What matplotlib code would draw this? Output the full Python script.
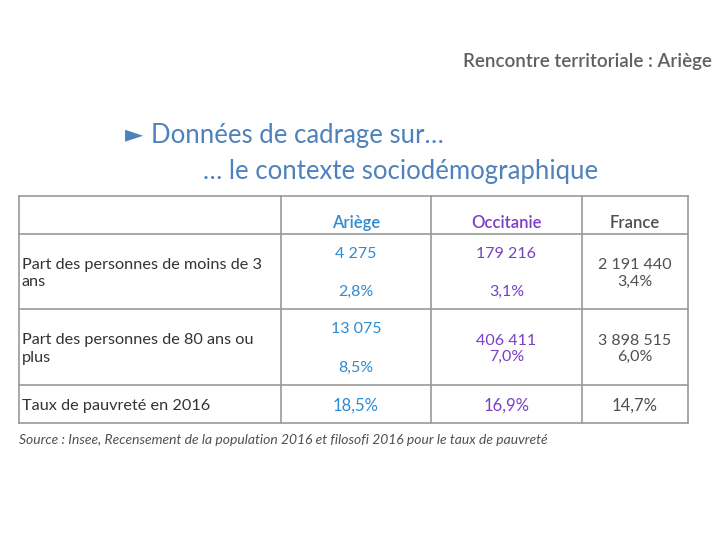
import matplotlib.pyplot as plt

# données du tableau
colonnes = ["Ariège", "Occitanie", "France"]
lignes = ["Part des personnes de moins de 3\nans",
          "Part des personnes de 80 ans ou\nplus",
          "Taux de pauvreté en 2016"]
effectifs = [["4 275", "179 216", "2 191 440"],
             ["13 075", "406 411", "3 898 515"],
             ["", "", ""]]
parts = [["2,8%", "3,1%", "3,4%"],
         ["8,5%", "7,0%", "6,0%"],
         ["18,5%", "16,9%", "14,7%"]]

couleurs = ["#2E8BD0", "#7A3FC4", "#505050"]

plt.rcParams['font.family'] = ['Lato', 'DejaVu Sans']

fig = plt.figure(figsize=(7.2, 5.4), dpi=100)
ax = fig.add_axes([0, 0, 1, 1])
ax.set_xlim(0, 720)
ax.set_ylim(540, 0)
ax.axis('off')

# en-tête
ax.text(712, 62, "Rencontre territoriale : Ariège", ha='right', va='center',
        fontsize=13.5, color='#606060', fontweight='semibold')
ax.text(125, 135, "►", ha='left', va='center',
        fontsize=17, color='#4F81BD')
ax.text(151, 135, "Données de cadrage sur…", ha='left', va='center',
        fontsize=18.5, color='#4F81BD')
ax.text(203, 171, "… le contexte sociodémographique", ha='left', va='center',
        fontsize=18.5, color='#4F81BD')

# grille du tableau
xs = [19, 281, 431, 582, 688]
ys = [196, 234, 309, 385, 423]
for y in ys:
    ax.plot([xs[0], xs[-1]], [y, y], color='#9A9A9A', lw=1.2)
for x in xs:
    ax.plot([x, x], [ys[0], ys[-1]], color='#9A9A9A', lw=1.2)

# titres de colonnes
for j, nom in enumerate(colonnes):
    xc = (xs[j + 1] + xs[j + 2]) / 2
    ax.text(xc, 223, nom, ha='center', va='center', fontsize=12,
            color=couleurs[j], fontweight='semibold')

# libellés des lignes
for i, lib in enumerate(lignes):
    yc = (ys[i + 1] + ys[i + 2]) / 2
    ax.text(22, yc + 2, lib, ha='left', va='center', fontsize=11.7,
            color='#333333', linespacing=1.35)

# valeurs
for i in range(len(lignes)):
    yc = (ys[i + 1] + ys[i + 2]) / 2
    for j in range(len(colonnes)):
        xc = (xs[j + 1] + xs[j + 2]) / 2
        eff = effectifs[i][j]
        pct = parts[i][j]
        if eff == "":
            ax.text(xc, yc + 2, pct, ha='center', va='center', fontsize=12,
                    color=couleurs[j])
        elif i == 0 and j < 2 or i == 1 and j == 0:
            # effectif en haut, part en bas
            ax.text(xc, ys[i + 1] + 20, eff, ha='center', va='center',
                    fontsize=11.5, color=couleurs[j])
            ax.text(xc, ys[i + 2] - 17, pct, ha='center', va='center',
                    fontsize=11.5, color=couleurs[j])
        else:
            ax.text(xc, yc + 2, eff + "\n" + pct, ha='center', va='center',
                    fontsize=11.5, color=couleurs[j], linespacing=1.25)

ax.text(19, 440, "Source : Insee, Recensement de la population 2016 et filosofi 2016 pour le taux de pauvreté",
        ha='left', va='center', fontsize=10, style='italic', color='#505050')

fig.savefig("out.png", dpi=100)
